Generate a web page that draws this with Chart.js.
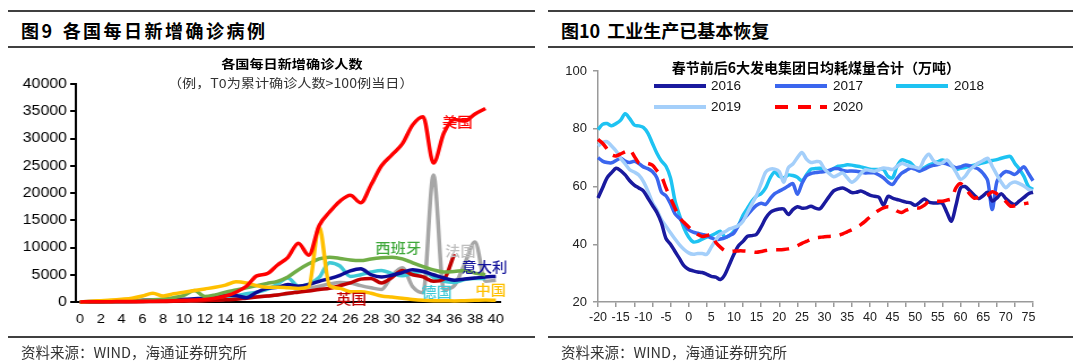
<!DOCTYPE html>
<html>
<head>
<meta charset="utf-8">
<script src="https://cdn.jsdelivr.net/npm/chart.js@4.4.1/dist/chart.umd.min.js"></script>
<style>
  body { margin: 0; width: 1080px; height: 364px; overflow: hidden; background: #fff; position: relative;
    font-family: "Noto Sans CJK SC", "Noto Sans", sans-serif; }
  .rule { position: absolute; height: 2px; background: #404040; }
  .hdr { position: absolute; top: 18px; font-size: 18px; font-weight: bold; line-height: 24px; white-space: nowrap; color: #000; }
  .src { position: absolute; top: 343px; font-size: 14.5px; line-height: 18px; color: #333; white-space: nowrap; }
  #leftBox { position: absolute; left: 8px; top: 0; width: 466px; height: 364px; transform-origin: 0 0; transform: scaleX(1.131); }
  .ctitle { position: absolute; text-align: center; white-space: nowrap; color: #000; line-height: 16px; }
  .wrap { position: absolute; }
  .sw { position: absolute; height: 4px; width: 52px; }
  .lg { position: absolute; font: 13.5px "Liberation Sans", Arial, sans-serif; line-height: 16px; color: #111; }
</style>
</head>
<body>
<div class="rule" style="left:8px;top:10px;width:527px"></div>
<div class="rule" style="left:8px;top:46px;width:527px"></div>
<div class="rule" style="left:548px;top:10px;width:525px"></div>
<div class="rule" style="left:548px;top:46px;width:525px"></div>
<div class="rule" style="left:8px;top:336px;width:527px"></div>
<div class="rule" style="left:548px;top:336px;width:525px"></div>

<div class="hdr" style="left:21px;letter-spacing:2.5px">图9<span style="margin-left:8px">各国每日新增确诊病例</span></div>
<div class="hdr" style="left:561px">图10<span style="margin-left:7px">工业生产已基本恢复</span></div>

<div id="leftBox">
  <div class="wrap" style="left:0;top:50px;width:466px;height:290px"><canvas id="caseChart"></canvas></div>
  <div class="ctitle" style="left:151px;top:56px;width:200px;font-size:12.5px;font-weight:bold">各国每日新增确诊人数</div>
  <div class="ctitle" style="left:100px;top:75px;width:300px;font-size:12.5px;color:#333">（例，T0为累计确诊人数&gt;100例当日）</div>
</div>

<div class="wrap" style="left:548px;top:50px;width:527px;height:290px"><canvas id="coalChart"></canvas></div>
<div class="ctitle" style="left:666px;top:59px;width:300px;font-size:14px;font-weight:bold">春节前后6大发电集团日均耗煤量合计（万吨）</div>

<div class="sw" style="left:654px;top:84px;background:#1a1a9e"></div>
<div class="lg" style="left:711px;top:78px">2016</div>
<div class="sw" style="left:775px;top:84px;background:#3b66ee"></div>
<div class="lg" style="left:833px;top:78px">2017</div>
<div class="sw" style="left:896px;top:84px;background:#1ec3f2"></div>
<div class="lg" style="left:954px;top:78px">2018</div>
<div class="sw" style="left:654px;top:105px;background:#a4cffa"></div>
<div class="lg" style="left:711px;top:99px">2019</div>
<div class="sw" style="left:775px;top:105px;background:repeating-linear-gradient(to right,#ff0000 0 13px,transparent 13px 22.5px)"></div>
<div class="lg" style="left:833px;top:99px">2020</div>

<div class="src" style="left:21px">资料来源：WIND，海通证券研究所</div>
<div class="src" style="left:561px">资料来源：WIND，海通证券研究所</div>

<script>
'use strict';

// ---- left: daily new cases (T0 = day cumulative > 100) ----
const caseDays = [0,1,2,3,4,5,6,7,8,9,10,11,12,13,14,15,16,17,18,19,20,21,22,23,24,25,26,27,28,29,30,31,32,33,34,35,36,37,38,39,40];
const caseTicks = [0,2,4,6,8,10,12,14,16,18,20,22,24,26,28,30,32,34,36,38,40];

const usaCases = [20,30,40,60,80,100,120,150,200,250,300,350,450,700,1100,1800,2900,4800,5200,6800,8200,10800,8600,14000,16500,18500,19600,18200,21500,25000,27000,29000,32500,34000,25500,31000,33500,33200,34500,35500];
const chinaCases = [20,150,250,350,500,700,1100,1600,1100,1500,1800,2100,2400,2700,3100,3700,3500,3000,2700,2700,2600,2500,2800,13800,3000,2500,1900,1900,1600,1100,900,700,450,300,250,250,200,250,300,350,300];
const spainCases = [20,30,50,80,120,200,300,400,550,800,1200,2100,1000,1300,1800,2200,2600,3000,3400,3800,4600,5900,7000,7900,8200,8000,7700,7600,7900,8100,8200,7900,7200,6500,5900,5500,5600,5800,5300,5000];
const italyCases = [50,80,100,150,200,250,300,350,400,450,500,600,700,1000,1300,1200,800,1800,2500,2700,3200,2900,3200,3800,4300,4900,5700,6100,5000,4600,4900,5400,5900,5600,5000,4400,4000,4200,4400,4600,4700];
const ukCases = [10,15,20,30,40,50,60,80,100,120,150,200,250,300,400,500,700,900,1100,1300,1600,1800,2000,2300,2500,3000,3500,4200,4300,3500,4500,5800,5000,4600,3800,4200,8800];
const germanyCases = [20,30,40,50,80,100,130,160,200,250,300,400,600,800,1000,1200,1500,1800,2300,3300,4400,2900,3300,4500,7200,6600,4700,5000,5500,5800,5200,4800,5300,5600,4500,3800,3600,4100,4300,4300];
const franceCases = [20,30,40,50,60,70,80,100,120,140,150,200,300,400,500,700,900,1000,1100,1300,1500,2000,2500,2900,3300,3600,3500,3000,2600,2300,4800,6300,2800,1700,23300,2300,3000,7000,11000,3800,4000];

// drawn top to bottom
const caseSeries = [
  { name: '美国', data: usaCases, color: '#ff0000' },
  { name: '中国', data: chinaCases, color: '#ffc000' },
  { name: '西班牙', data: spainCases, color: '#70ad47' },
  { name: '意大利', data: italyCases, color: '#0c0c96' },
  { name: '英国', data: ukCases, color: '#c00000' },
  { name: '德国', data: germanyCases, color: '#3fc9d6' },
  { name: '法国', data: franceCases, color: '#a6a6a6' }
];

// where the country names sit (day, cases)
const caseLabelNames = ['美国', '法国', '意大利', '西班牙', '德国', '英国', '中国'];
const caseLabelDays = [36.3, 36.6, 38.9, 30.6, 34.3, 26.1, 39.5];
const caseLabelValues = [33000, 9360, 6400, 10000, 1835, 640, 2200];
const caseLabelColors = ['#ff0000', '#bfbfbf', '#12129a', '#3fa83a', '#3fc9d6', '#c00000', '#ffc000'];

// ---- right: coal use around spring festival ----
const coalDays = [-20,-19,-18,-17,-16,-15,-14,-13,-12,-11,-10,-9,-8,-7,-6,-5,-4,-3,-2,-1,0,1,2,3,4,5,6,7,8,9,10,11,12,13,14,15,16,17,18,19,20,21,22,23,24,25,26,27,28,29,30,31,32,33,34,35,36,37,38,39,40,41,42,43,44,45,46,47,48,49,50,51,52,53,54,55,56,57,58,59,60,61,62,63,64,65,66,67,68,69,70,71,72,73,74,75,76];
const coalLabelTicks = [-20,-15,-10,-5,0,5,10,15,20,25,30,35,40,45,50,55,60,65,70,75];
const coalMarkTicks = [-20,-16,-12,-8,-4,0,4,8,12,16,20,24,28,32,36,40,44,48,52,56,60,64,68,72,76];
const coalYTicks = [20, 40, 60, 80, 100];

const coal2016 = [
  56, 59.5, 63, 64.8, 66.3, 65.5, 64, 62, 60.5, 59.5,
  58.5, 56, 53.5, 51, 47.4, 42, 40, 37.5, 35, 32.5,
  31.3, 30.8, 30.4, 30.2, 29.6, 28.9, 28.6, 27.8, 29.5, 33,
  36.5, 39.5, 41, 42.8, 43, 43.5, 46, 49, 51, 51.8,
  52.2, 52.2, 50.3, 52, 53, 52.5, 52.6, 53.2, 52.5, 52.3,
  54.3, 56.5, 58.5, 59.2, 59.5, 58.8, 57.9, 58, 58.4, 57.8,
  57, 56.6, 56.3, 53.5, 56.6, 56, 55.5, 55, 54.6, 54.3,
  53.5, 54.5, 55.7, 54.6, 54.3, 54.3, 54.2, 51, 48, 53.5,
  59.5, 60, 58.6, 57, 55.8, 56.8, 58, 55, 56, 57.5,
  55.8, 54.5, 53.8, 55, 56.2, 57.5, 58
];
const coal2017 = [
  70, 68.8, 68.3, 68.2, 69, 69.8, 68.8, 68.3, 68.7, 68,
  66.8, 66.2, 65.2, 63, 58, 56.8, 54, 50.5, 49, 47,
  45, 44.2, 43.8, 43.4, 43, 42.2, 41.6, 41.8, 42.2, 43,
  43.9, 46.5, 48.5, 50.2, 52, 53.5, 54.2, 53.8, 55.8, 57.5,
  58.4, 59.2, 60.2, 61, 57.3, 61, 63.7, 64.5, 64.8, 65,
  65.2, 65.6, 66.2, 66.2, 65.6, 65.3, 65.4, 65.3, 65, 64.7,
  64.8, 64.7, 64, 63, 61.5, 60.7, 62.8, 64.6, 65.5, 66.4,
  66, 65.4, 66, 66.8, 67.3, 67.6, 68.1, 67.8, 67.2, 66.5,
  66.8, 67.4, 67.2, 66.6, 66, 64.5, 62, 52, 61.5, 64,
  65.2, 64.8, 64.2, 65.5, 66.8, 64.5, 62
];
const coal2018 = [
  79.7, 81.5, 81.8, 81, 81.8, 83, 85.2, 83.5, 81.3, 81,
  80.5, 78.5, 75, 71.5, 68.8, 67, 63, 55, 50, 45.5,
  42.5, 40.8, 41, 41.8, 42.5, 43, 43.8, 44.5, 42.5, 43,
  44.5, 46.5, 50, 52.5, 55, 56.7, 57.5, 59.5, 63, 65,
  63.5, 63, 64, 63.8, 63.2, 62, 64, 66, 66.2, 66.3,
  65.8, 65.3, 66.2, 67, 67.2, 67.5, 67.4, 67.1, 66.8, 66.4,
  66, 65.9, 65.9, 65.9, 63.5, 63, 67, 69.2, 68.8, 68.2,
  66.5, 65.4, 66.5, 67.4, 68, 68.6, 69.2, 68.5, 67.2, 66,
  66.3, 66.6, 67, 67.4, 67.8, 68.2, 68.6, 69, 69.3, 69.8,
  70.2, 70.4, 68, 66, 63.5, 60, 59
];
const coal2019 = [
  74, 75.2, 75.5, 74, 72.3, 69.8, 67.8, 65.8, 65, 64,
  61.8, 58.5, 54.5, 51.8, 48.5, 46.2, 44, 41.8, 39.8, 38.2,
  37, 36.5, 36.8, 36.8, 36.5, 39, 41.5, 43.5, 44.3, 45.3,
  45.8, 46.5, 48, 51, 54, 57, 61, 65, 66, 66,
  65.2, 61.5, 66.5, 67.8, 70, 71.8, 69.5, 68.3, 68.6, 68.5,
  66, 64.5, 63.4, 64, 64.7, 63, 61.5, 62.5, 64.5, 65.8,
  65.5, 65.3, 65.8, 66.4, 66.2, 65.9, 67, 68, 67.5, 67,
  66.7, 66.4, 69.5, 71.2, 69, 68, 68.2, 69.2, 67.5, 65,
  62.5, 63.5, 65.7, 67, 68.2, 69, 69.8, 67, 64.1, 61.5,
  59.6, 61, 61.6, 61, 60.2, 59, 58.5
];
const coal2020 = [
  76.3, 75, 73, 71, 70.6, 71.3, 72, 72.8, 70.5, 68.2,
  68.2, 68, 67.4, 65.5, 63.5, 59.5, 56, 52.5, 49.2, 47.5,
  46, 44.5, 43.4, 42.7, 43, 43.3, 40.6, 39, 37.8, 37.5,
  37.6, 37.7, 37.7, 37.6, 37.4, 37.2, 37.5, 37.8, 38, 38.1,
  38.1, 38.2, 38.4, 38.8, 39.5, 40.3, 41, 41.7, 42.2, 42.4,
  42.6, 42.7, 42.8, 43, 43.6, 44.3, 45, 45.8, 46.8, 48,
  49.5, 50.8, 51.8, 52.6, 53, 52.6, 51.5, 51, 51.8, 52.4,
  52.6, 52.6, 53.5, 54.8, 55, 54.9, 54.9, 55.3, 55.8, 59.5,
  61, 59.5, 57.5, 56, 56.2, 56.5, 57, 58.2, 57.5, 56.3,
  54.8, 53.2, 53.3, 53.7, 54, 54.3, null
];

const coalSeries = [
  { name: '2020', data: coal2020, color: '#ff0000', dash: [13, 9] },
  { name: '2016', data: coal2016, color: '#1a1a9e', dash: [] },
  { name: '2019', data: coal2019, color: '#a4cffa', dash: [] },
  { name: '2017', data: coal2017, color: '#3b66ee', dash: [] },
  { name: '2018', data: coal2018, color: '#1ec3f2', dash: [] }
];

Chart.defaults.font.family = '"Liberation Sans", Arial, sans-serif';
Chart.defaults.animation = false;

const caseLabelPlugin = {
  id: 'caseLabels',
  afterDatasetsDraw( chart ) {
    const { ctx, scales: { x, y } } = chart;
    ctx.save();
    ctx.font = '500 13.5px "Noto Sans CJK SC"';
    ctx.textAlign = 'center';
    ctx.textBaseline = 'middle';
    for ( let i = 0; i < caseLabelNames.length; i++ ) {
      ctx.fillStyle = caseLabelColors[i];
      ctx.fillText( caseLabelNames[i], x.getPixelForValue( caseLabelDays[i] ), y.getPixelForValue( caseLabelValues[i] ) );
    }
    ctx.restore();
  }
};

new Chart( document.getElementById( 'caseChart' ), {
  type: 'line',
  data: {
    labels: caseDays,
    datasets: caseSeries.map( s => ( {
      label: s.name,
      data: s.data,
      borderColor: s.color,
      borderWidth: 3.5,
      pointRadius: 0,
      cubicInterpolationMode: 'monotone',
      clip: false
    } ) )
  },
  options: {
    responsive: true,
    maintainAspectRatio: false,
    animation: false,
    layout: { padding: { top: 34, right: 31, left: 0, bottom: 0 } },
    plugins: { legend: { display: false }, tooltip: { enabled: false } },
    scales: {
      x: {
        type: 'linear',
        min: -0.4,
        max: 40.4,
        afterBuildTicks: s => { s.ticks = caseTicks.map( v => ( { value: v } ) ); },
        afterFit: s => { s.height = 38; },
        grid: { display: false, drawTicks: false },
        border: { display: true, color: '#000', width: 2 },
        ticks: { autoSkip: false, maxRotation: 0, padding: 10, color: '#000', font: { size: 13 } }
      },
      y: {
        min: 0,
        max: 40000,
        afterFit: s => { s.width = 60; },
        grid: { drawOnChartArea: false, tickLength: 5, color: '#000', lineWidth: 2 },
        border: { color: '#000', width: 2 },
        ticks: { stepSize: 5000, padding: 3, color: '#000', font: { size: 14 }, callback: v => String( v ) }
      }
    }
  },
  plugins: [caseLabelPlugin]
} );

const coalTickValues = coalMarkTicks.concat( coalLabelTicks.filter( v => coalMarkTicks.indexOf( v ) < 0 ) ).sort( ( a, b ) => a - b );

new Chart( document.getElementById( 'coalChart' ), {
  type: 'line',
  data: {
    labels: coalDays,
    datasets: coalSeries.map( s => ( {
      label: s.name,
      data: s.data,
      borderColor: s.color,
      borderWidth: 3.5,
      borderDash: s.dash,
      pointRadius: 0,
      tension: 0.3,
      clip: false
    } ) )
  },
  options: {
    responsive: true,
    maintainAspectRatio: false,
    animation: false,
    layout: { padding: { top: 21, right: 42, left: 0, bottom: 0 } },
    plugins: { legend: { display: false }, tooltip: { enabled: false } },
    scales: {
      x: {
        type: 'linear',
        min: -20,
        max: 76,
        afterBuildTicks: s => { s.ticks = coalTickValues.map( v => ( { value: v } ) ); },
        afterFit: s => { s.height = 38; },
        grid: {
          drawOnChartArea: false,
          tickLength: 5,
          lineWidth: 1.5,
          tickColor: c => ( c.tick && coalMarkTicks.indexOf( c.tick.value ) >= 0 ) ? '#9a9a9a' : 'rgba(0,0,0,0)'
        },
        border: { color: '#9a9a9a', width: 1.5 },
        ticks: {
          autoSkip: false,
          maxRotation: 0,
          padding: 3,
          color: '#222',
          font: { size: 12.5 },
          callback: v => coalLabelTicks.indexOf( v ) >= 0 ? String( v ) : ''
        }
      },
      y: {
        min: 20,
        max: 100,
        afterBuildTicks: s => { s.ticks = coalYTicks.map( v => ( { value: v } ) ); },
        afterFit: s => { s.width = 50; },
        grid: { drawOnChartArea: false, tickLength: 5, color: '#9a9a9a', lineWidth: 1.5 },
        border: { color: '#9a9a9a', width: 1.5 },
        ticks: { padding: 6, color: '#222', font: { size: 13 } }
      }
    }
  }
} );
</script>
</body>
</html>
